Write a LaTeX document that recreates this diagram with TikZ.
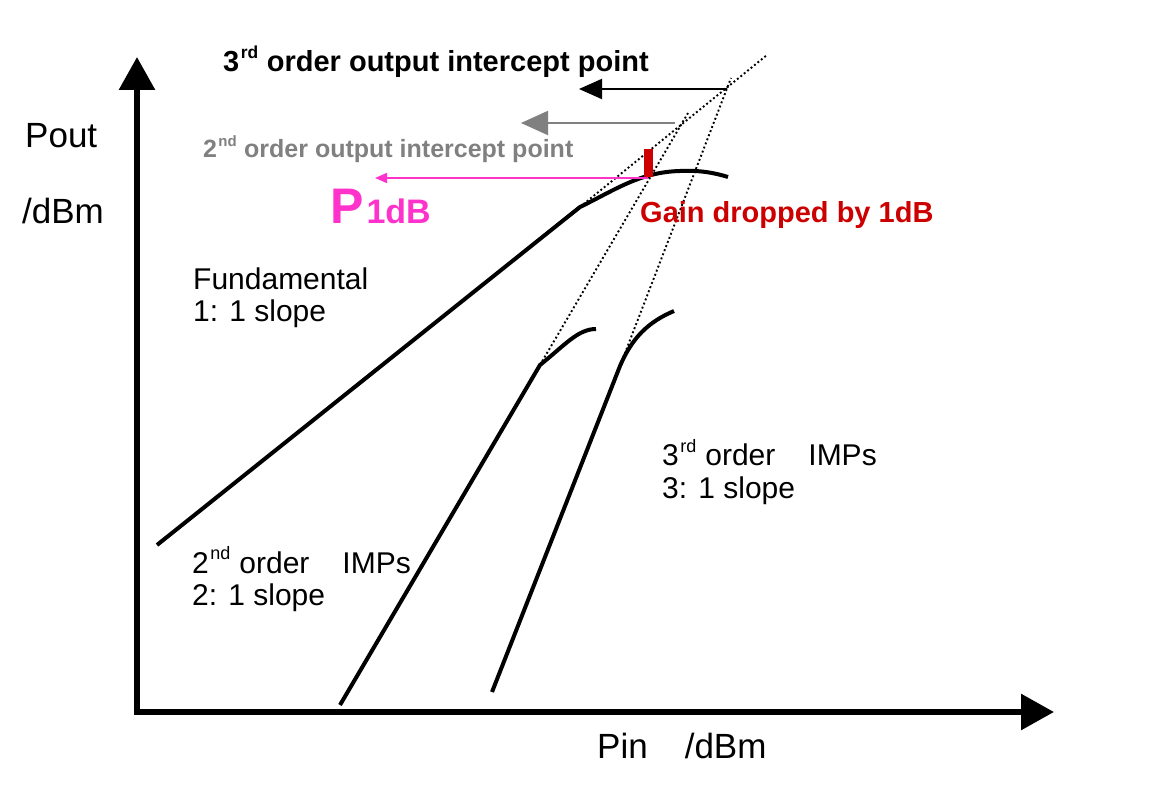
\documentclass[tikz,border=0pt]{standalone}
\usepackage{fontspec}
\usepackage{graphicx}
\setmainfont{Liberation Sans}
\usetikzlibrary{arrows.meta}
\definecolor{pinkpdb}{RGB}{255,51,204}
\definecolor{gainred}{RGB}{204,0,0}
\definecolor{ipgray}{RGB}{128,128,128}
\newcommand{\ordsup}[1]{\hspace{0.05em}\raisebox{0.45em}{\scalebox{0.6}{#1}}}

\begin{document}
\begin{tikzpicture}[x=1pt,y=-1pt]
  \tikzstyle{axis}=[line width=6pt, -{Triangle[length=33pt,width=35pt]}]
  \tikzstyle{trace}=[line width=4pt, line join=round]
  \tikzstyle{guide}=[line width=1.9pt, dash pattern=on 1.9pt off 2.5pt]
  \tikzstyle{txt}=[anchor=base west, inner sep=0pt, font=\fontsize{30}{32}\selectfont]
  \tikzstyle{bigtxt}=[txt, font=\fontsize{35}{37}\selectfont]
  \useasboundingbox (0,0) rectangle (1149,791);

  % axes
  \coordinate (O_y) at (137,715);
  \coordinate (Y_t) at (137,57);
  \coordinate (O_x) at (134,712);
  \coordinate (X_t) at (1054,712);
  \draw[axis] (O_y) -- (Y_t);
  \draw[axis] (O_x) -- (X_t);

  % traces
  \coordinate (F_0) at (157,545);
  \coordinate (F_k) at (580,207);
  \coordinate (F_p) at (680,171);
  \coordinate (F_e) at (728,177);
  \coordinate (F_x) at (767,55);
  \coordinate (S_0) at (340,705);
  \coordinate (S_k) at (540,365);
  \coordinate (S_e) at (596,329);
  \coordinate (S_x) at (688,113);
  \coordinate (T_0) at (492,692);
  \coordinate (T_k) at (620,366);
  \coordinate (T_e) at (674,311);
  \coordinate (T_x) at (731,78);

  \draw[guide] (F_k) -- (F_x);
  \draw[guide] (S_k) -- (S_x);
  \draw[guide] (T_k) -- (T_x);

  \draw[trace] (F_0) -- (F_k) .. controls (615,190) and (640,172) .. (F_p)
    .. controls (700,170) and (715,173) .. (F_e);
  \draw[trace] (S_0) -- (S_k) .. controls (565,345) and (578,329) .. (S_e);
  \draw[trace] (T_0) -- (T_k) .. controls (632,338) and (648,322) .. (T_e);

  % intercept points and P1dB
  \coordinate (IP3) at (727,89);
  \coordinate (IP3_l) at (579,89);
  \coordinate (IP2) at (675,123);
  \coordinate (IP2_l) at (521,123);
  \coordinate (P1) at (648,178);
  \coordinate (P1_l) at (375,178);
  \draw[line width=2pt, -{Triangle[length=23pt,width=20pt]}] (IP3) -- (IP3_l);
  \draw[ipgray, line width=2pt, -{Triangle[length=27pt,width=24pt]}] (IP2) -- (IP2_l);
  \draw[pinkpdb, line width=1.5pt, -{Triangle[length=12pt,width=10pt]}] (P1) -- (P1_l);
  \fill[gainred] (644,149) rectangle (653,177);

  % labels
  \node[txt, font=\bfseries\fontsize{29}{31}\selectfont] (ip3_txt) at (223,72)
    {3\ordsup{rd}\hspace{0.3em}order output intercept point};
  \node[txt, ipgray, font=\bfseries\fontsize{25}{27}\selectfont] (ip2_txt) at (203,158)
    {2\ordsup{nd}\hspace{0.3em}order output intercept point};
  \node[txt, pinkpdb, font=\bfseries] (p1_txt) at (330,224)
    {{\fontsize{50}{50}\selectfont P}\hspace{3pt}{\fontsize{34}{34}\selectfont 1dB}};
  \node[txt, gainred, font=\bfseries\fontsize{29}{31}\selectfont] (gain_txt) at (640,223)
    {Gain dropped by 1dB};
  \node[bigtxt] (pout_txt) at (25,148) {Pout};
  \node[bigtxt] (pdbm_txt) at (22,224) {/dBm};
  \node[bigtxt] (pin_txt) at (597,758) {Pin\hspace{37pt}/dBm};
  \node[txt] (f_txt) at (193,290) {Fundamental};
  \node[txt] (f_slope) at (193,322) {1: 1 slope};
  \node[txt] (s_txt) at (192,573) {2\ordsup{nd}\hspace{0.3em}order\hspace{1.1em}IMPs};
  \node[txt] (s_slope) at (192,605) {2: 1 slope};
  \node[txt] (t_txt) at (662,466) {3\ordsup{rd}\hspace{0.3em}order\hspace{1.1em}IMPs};
  \node[txt] (t_slope) at (662,498) {3: 1 slope};
\end{tikzpicture}
\end{document}
